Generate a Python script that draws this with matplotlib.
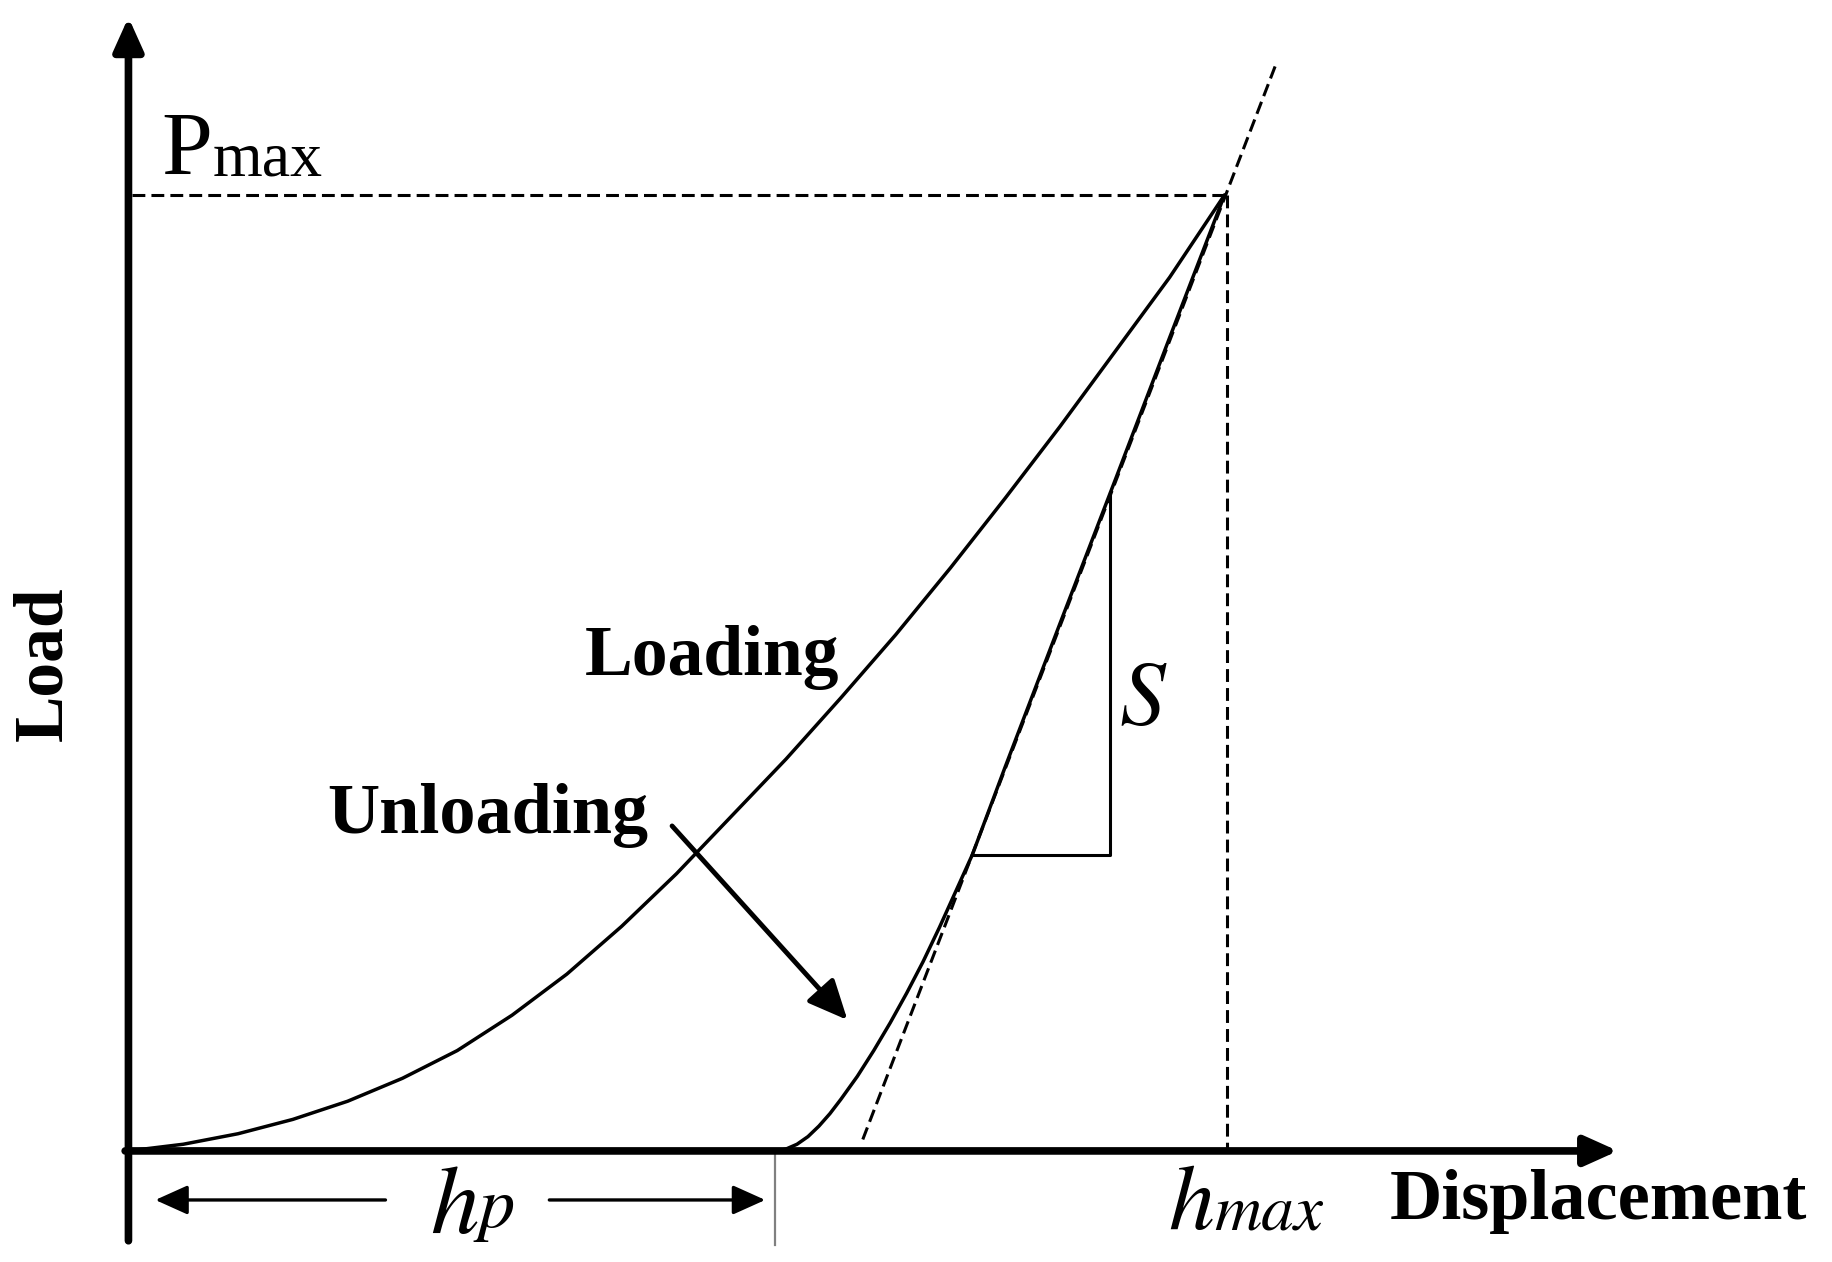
import matplotlib
matplotlib.use("Agg")
import matplotlib.pyplot as plt

plt.rcParams['font.family'] = ['Liberation Serif', 'DejaVu Serif']
ITALIC = ['STIXGeneral', 'Liberation Serif']

# schematic load-displacement data (h in units of h_max, P in units of P_max)
h_max = 1.0
P_max = 1.0
h_p = 0.592

loading_h = [0.0, 0.05, 0.10, 0.15, 0.20, 0.25, 0.30, 0.35, 0.40, 0.45, 0.50,
             0.55, 0.60, 0.65, 0.70, 0.75, 0.80, 0.85, 0.90, 0.95, 1.0]
loading_P = [0.0, 0.007, 0.018, 0.033, 0.052, 0.076, 0.105, 0.142, 0.185, 0.235, 0.290,
             0.350, 0.410, 0.474, 0.540, 0.610, 0.683, 0.758, 0.836, 0.914, 1.0]

unloading_h = [0.592, 0.600, 0.610, 0.620, 0.630, 0.640, 0.650, 0.665, 0.680, 0.695,
               0.710, 0.725, 0.740, 0.755, 0.770, 0.800, 0.850, 0.900, 0.950, 1.0]
unloading_P = [0.0, 0.002, 0.007, 0.015, 0.026, 0.039, 0.054, 0.078, 0.105, 0.134,
               0.165, 0.198, 0.234, 0.272, 0.310, 0.402, 0.552, 0.701, 0.851, 1.0]

tangent_h = [0.670, 1.047]
tangent_P = [0.012, 1.137]

# stiffness triangle
tri_h = [0.770, 0.896, 0.896]
tri_P = [0.310, 0.310, 0.688]

fig = plt.figure(figsize=(18.32, 12.62), dpi=100)
ax = fig.add_axes([0, 0, 1, 1])
ax.set_xlim(-0.1172, 1.5543)
ax.set_ylim(-0.1162, 1.2041)
ax.axis('off')

# axes arrows
axis_arrow = dict(arrowstyle='-|>,head_length=1.0,head_width=0.45', lw=5.5,
                  color='black', mutation_scale=20, shrinkA=0, shrinkB=0)
ax.annotate('', xy=(0.0, 1.186), xytext=(0.0, -0.094), arrowprops=axis_arrow)
ax.annotate('', xy=(1.359, 0.0), xytext=(-0.003, 0.0), arrowprops=axis_arrow)

# dashed guides
dash = dict(color='black', lw=2.2, dashes=(4.2, 2.0))
ax.plot([0.003, h_max], [P_max, P_max], **dash)
ax.plot([h_max + 0.002, h_max + 0.002], [P_max, 0.0], **dash)
ax.plot(tangent_h, tangent_P, **dash)

# curves
ax.plot(loading_h, loading_P, color='black', lw=2.5, solid_capstyle='round',
        solid_joinstyle='round')
ax.plot(unloading_h, unloading_P, color='black', lw=2.5, solid_capstyle='round',
        solid_joinstyle='round')
ax.plot(tri_h, tri_P, color='black', lw=2.2)

# h_p marker
ax.plot([h_p - 0.002, h_p - 0.002], [0.0, -0.098], color='#808080', lw=1.6)
hp_arrow = dict(arrowstyle='-|>,head_length=1.0,head_width=0.45', lw=2.4,
                color='black', mutation_scale=20, shrinkA=0, shrinkB=0)
ax.annotate('', xy=(0.0245, -0.0513), xytext=(0.2345, -0.0513), arrowprops=hp_arrow)
ax.annotate('', xy=(0.581, -0.0513), xytext=(0.384, -0.0513), arrowprops=hp_arrow)

# unloading pointer
ax.annotate('', xy=(0.656, 0.137), xytext=(0.496, 0.340),
            arrowprops=dict(arrowstyle='-|>,head_length=1.1,head_width=0.5', lw=3.5,
                            color='black', mutation_scale=22, shrinkA=0, shrinkB=0))

# labels
tP = ax.text(0.030, 1.021, 'P', fontsize=66, va='baseline', ha='left')
ax.annotate('max', xy=(1, 1.021), xycoords=(tP, 'data'), fontsize=46,
            va='baseline', ha='left')

ax.text(0.416, 0.4976, 'Loading', fontsize=51.5, fontweight='bold', va='baseline')
ax.text(0.181, 0.3325, 'Unloading', fontsize=52, fontweight='bold', va='baseline')
ax.text(0.904, 0.446, 'S', fontsize=66, family=ITALIC, style='italic', va='baseline')

th = ax.text(0.275, -0.0856, 'h', fontsize=70, family=ITALIC, style='italic',
             va='baseline')
ax.annotate('p', xy=(1, -0.080), xycoords=(th, 'data'), fontsize=52,
            family=ITALIC, style='italic', va='baseline', ha='left')

tm = ax.text(0.949, -0.082, 'h', fontsize=66, family=ITALIC, style='italic',
             va='baseline')
ax.annotate('max', xy=(1, -0.082), xycoords=(tm, 'data'), fontsize=47,
            family=ITALIC, style='italic', va='baseline', ha='left')

ax.text(1.151, -0.0709, 'Displacement', fontsize=52, fontweight='bold', va='baseline')
ax.text(-0.0768, 0.51, 'Load', fontsize=50, fontweight='bold', rotation=90,
        va='center', ha='center')

fig.savefig('out.png', dpi=100)
